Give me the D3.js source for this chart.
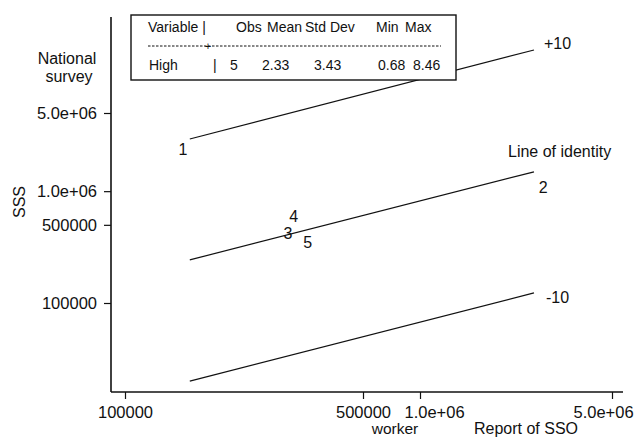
<!DOCTYPE html>
<html>
<head>
<meta charset="utf-8">
<script src="https://cdn.jsdelivr.net/npm/d3@7"></script>
<style>
body { margin: 0; background: #fff; }
text { font-family: "Liberation Sans", Arial, sans-serif; fill: #111; }
</style>
</head>
<body>
<div id="chart"></div>
<script>
// point ids and values (worker report of SSO vs national survey)
var ids = ["1", "2", "3", "4", "5"];
var workerReport = [148000, 2810000, 301000, 313000, 344000];
var nationalSurvey = [2340000, 1090000, 423000, 600000, 351000];

// reference lines, end points on the x axis
var lineX = [155000, 2600000];
var plus10Y = [2930000, 18300000];
var identityY = [243000, 1490000];
var minus10Y = [20000, 123000];

var tickValues = [100000, 500000, 1000000, 5000000];
var tickLabels = ["100000", "500000", "1.0e+06", "5.0e+06"];

var tableHeader = ["Variable |", "Obs", "Mean", "Std Dev", "Min", "Max"];
var tableRow = ["High", "|", "5", "2.33", "3.43", "0.68", "8.46"];

const WIDTH = 638;
const HEIGHT = 439;
const LEFT = 111, RIGHT = 623, TOP = 17, BOTTOM = 392;

var svg = d3.select("#chart").append("svg")
    .attr("width", WIDTH)
    .attr("height", HEIGHT);

// the printed x axis is not evenly spaced, so a piecewise log scale
var xScale = d3.scaleLog()
    .domain(tickValues)
    .range([125, 363, 420, 612]);

var yScale = d3.scaleLog()
    .domain([100000, 5000000])
    .range([303, 113]);

var xAxis = d3.axisBottom(xScale)
    .tickValues(tickValues)
    .tickFormat(function (d, i) { return tickLabels[i]; })
    .tickSize(7)
    .tickPadding(7);

var yAxis = d3.axisLeft(yScale)
    .tickValues(tickValues)
    .tickFormat(function (d, i) { return tickLabels[i]; })
    .tickSize(7)
    .tickPadding(7);

var gx = svg.append("g")
    .attr("transform", "translate(0," + BOTTOM + ")")
    .call(xAxis);
gx.select(".domain").remove();
gx.selectAll(".tick line").attr("stroke", "#111").attr("stroke-width", 1.2);
gx.selectAll(".tick text")
    .attr("font-size", 16.5)
    .attr("fill", "#111")
    .attr("dx", function (d, i) { return [0, 0, 14, -9][i]; });

var gy = svg.append("g")
    .attr("transform", "translate(" + LEFT + ",0)")
    .call(yAxis);
gy.select(".domain").remove();
gy.selectAll(".tick line").attr("stroke", "#111").attr("stroke-width", 1.2);
gy.selectAll(".tick text").attr("font-size", 16.5).attr("fill", "#111");

// axis frame lines
svg.append("line")
    .attr("x1", LEFT).attr("x2", RIGHT)
    .attr("y1", BOTTOM).attr("y2", BOTTOM)
    .attr("stroke", "#111").attr("stroke-width", 1.6);
svg.append("line")
    .attr("x1", LEFT).attr("x2", LEFT)
    .attr("y1", TOP).attr("y2", BOTTOM)
    .attr("stroke", "#111").attr("stroke-width", 1.6);

// reference lines
var refLines = [plus10Y, identityY, minus10Y];
var line = d3.line()
    .x(function (d, i) { return xScale(lineX[i]); })
    .y(function (d) { return yScale(d); });

svg.selectAll(".ref")
    .data(refLines)
    .enter()
    .append("path")
    .attr("class", "ref")
    .attr("d", function (d) { return line(d); })
    .attr("fill", "none")
    .attr("stroke", "#111")
    .attr("stroke-width", 1.2);

var endX = xScale(lineX[1]);
svg.append("text")
    .attr("x", endX + 10).attr("y", yScale(plus10Y[1]) - 7)
    .attr("dy", "0.35em").attr("font-size", 16).text("+10");
svg.append("text")
    .attr("x", endX - 26).attr("y", yScale(identityY[1]) - 20)
    .attr("dy", "0.35em").attr("font-size", 16).text("Line of identity");
svg.append("text")
    .attr("x", endX + 12).attr("y", yScale(minus10Y[1]) + 4)
    .attr("dy", "0.35em").attr("font-size", 16).text("-10");

// point labels
svg.selectAll(".pt")
    .data(ids)
    .enter()
    .append("text")
    .attr("class", "pt")
    .attr("x", function (d, i) { return xScale(workerReport[i]); })
    .attr("y", function (d, i) { return yScale(nationalSurvey[i]); })
    .attr("dy", "0.35em")
    .attr("text-anchor", "middle")
    .attr("font-size", 16)
    .text(function (d) { return d; });

// axis titles
svg.append("text")
    .attr("transform", "translate(19,202) rotate(-90)")
    .attr("text-anchor", "middle").attr("dy", "0.35em")
    .attr("font-size", 16).text("SSS");
svg.append("text")
    .attr("x", 67).attr("y", 58).attr("dy", "0.35em")
    .attr("text-anchor", "middle").attr("font-size", 16).text("National");
svg.append("text")
    .attr("x", 69).attr("y", 76).attr("dy", "0.35em")
    .attr("text-anchor", "middle").attr("font-size", 16).text("survey");
svg.append("text")
    .attr("x", 395).attr("y", 429).attr("dy", "0.35em")
    .attr("text-anchor", "middle").attr("font-size", 15.5).text("worker");
svg.append("text")
    .attr("x", 526).attr("y", 428).attr("dy", "0.35em")
    .attr("text-anchor", "middle").attr("font-size", 16).text("Report of SSO");

// summary table box
var table = svg.append("g");
table.append("rect")
    .attr("x", 131).attr("y", 15)
    .attr("width", 325).attr("height", 65)
    .attr("fill", "#fff")
    .attr("stroke", "#111").attr("stroke-width", 1.4);

var headerX = [148, 236, 267, 305, 376, 405];
table.selectAll(".hd")
    .data(tableHeader)
    .enter()
    .append("text")
    .attr("x", function (d, i) { return headerX[i]; })
    .attr("y", 27)
    .attr("dy", "0.35em")
    .attr("font-size", 14)
    .text(function (d) { return d; });

table.append("line")
    .attr("x1", 148).attr("x2", 441)
    .attr("y1", 46).attr("y2", 46)
    .attr("stroke", "#111").attr("stroke-width", 1)
    .attr("stroke-dasharray", "2.5,1.5");
table.append("text")
    .attr("x", 208).attr("y", 46).attr("dy", "0.35em")
    .attr("text-anchor", "middle").attr("font-size", 11).text("+");

var rowX = [149, 213, 230, 262, 314, 378, 413];
table.selectAll(".rw")
    .data(tableRow)
    .enter()
    .append("text")
    .attr("x", function (d, i) { return rowX[i]; })
    .attr("y", 65)
    .attr("dy", "0.35em")
    .attr("font-size", 14)
    .text(function (d) { return d; });
</script>
</body>
</html>
